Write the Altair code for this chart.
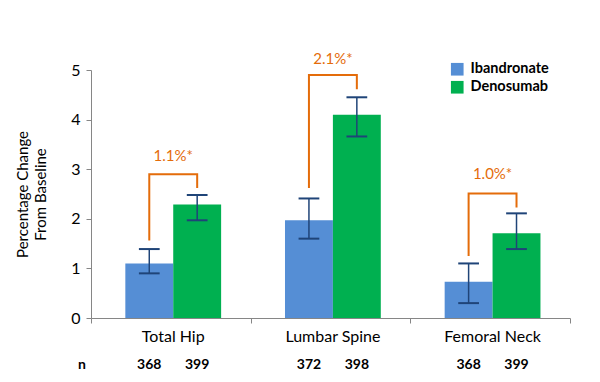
import altair as alt
import pandas as pd

# ---- data ----
categories = ["Total Hip", "Lumbar Spine", "Femoral Neck"]
series = ["Ibandronate", "Denosumab"]
ibandronate = [1.10, 1.97, 0.73]
denosumab = [2.29, 4.10, 1.71]
iband_lo = [0.90, 1.60, 0.30]
iband_hi = [1.39, 2.41, 1.10]
denos_lo = [1.97, 3.66, 1.39]
denos_hi = [2.48, 4.45, 2.11]
n_iband = [368, 372, 368]
n_denos = [399, 398, 399]
diff_labels = ["1.1%*", "2.1%*", "1.0%*"]
bracket_left_low = [1.56, 2.62, 1.25]
bracket_top = [2.90, 4.90, 2.51]
bracket_right_low = [2.62, 4.61, 2.23]
diff_label_y = [3.26, 5.23, 2.90]

# ---- layout constants ----
BAR_W = 0.30
CAP_W = 0.065
SHIFT = 0.015
FONT = "Lato"
BLUE, GREEN = "#558ED5", "#00B050"
NAVY, ORANGE, AXIS_GRAY = "#1F4478", "#E46C0A", "#868686"

bar_rows, err_rows, n_rows, cat_rows, br_rows, dl_rows = [], [], [], [], [], []
for i, cat in enumerate(categories):
    c = i + 0.5 + SHIFT
    vals = [ibandronate[i], denosumab[i]]
    los = [iband_lo[i], denos_lo[i]]
    his = [iband_hi[i], denos_hi[i]]
    ns = [n_iband[i], n_denos[i]]
    for j, s in enumerate(series):
        x0 = c - BAR_W if j == 0 else c
        x1 = x0 + BAR_W
        xc = (x0 + x1) / 2
        bar_rows.append(dict(category=cat, series=s, x0=x0, x1=x1, value=vals[j]))
        err_rows.append(dict(xc=xc, cl=xc - CAP_W, cr=xc + CAP_W, lo=los[j], hi=his[j]))
        n_rows.append(dict(xc=xc, n=str(ns[j])))
    cat_rows.append(dict(xc=c, label=cat))
    xl, xr = c - BAR_W / 2, c + BAR_W / 2
    pts = [(xl, bracket_left_low[i]), (xl, bracket_top[i]),
           (xr, bracket_top[i]), (xr, bracket_right_low[i])]
    for k, (px, py) in enumerate(pts):
        br_rows.append(dict(grp=cat, order=k, bx=px, by=py))
    dl_rows.append(dict(xc=c, y=diff_label_y[i], label=diff_labels[i]))

bars_df = pd.DataFrame(bar_rows)
err_df = pd.DataFrame(err_rows)
n_df = pd.DataFrame(n_rows)
cat_df = pd.DataFrame(cat_rows)
br_df = pd.DataFrame(br_rows)
dl_df = pd.DataFrame(dl_rows)

xscale = alt.Scale(domain=[0, 3], nice=False, zero=False)
yscale = alt.Scale(domain=[0, 5], nice=False)

xaxis = alt.Axis(values=[0, 1, 2, 3], labels=False, title=None, grid=False,
                 domainColor=AXIS_GRAY, tickColor=AXIS_GRAY, tickSize=5)
yaxis = alt.Axis(values=[0, 1, 2, 3, 4, 5], grid=False,
                 title=["Percentage Change", "From Baseline"],
                 titleFont=FONT, titleFontSize=15, titleFontWeight="normal",
                 titleColor="#000000", titlePadding=22, titleLineHeight=18,
                 labelFont=FONT, labelFontSize=16, labelColor="#000000",
                 labelPadding=6, domainColor=AXIS_GRAY, tickColor=AXIS_GRAY,
                 tickSize=5)


def X(field):
    return alt.X(field, scale=xscale, axis=xaxis)


def Y(field):
    return alt.Y(field, scale=yscale, axis=yaxis)


bars = alt.Chart(bars_df).mark_rect().encode(
    x=X("x0:Q"),
    x2="x1:Q",
    y=Y("value:Q"),
    y2=alt.datum(0),
    color=alt.Color("series:N",
                    scale=alt.Scale(domain=series, range=[BLUE, GREEN]),
                    legend=alt.Legend(title=None, orient="none", legendX=359, legendY=-8,
                                      symbolType="square", symbolSize=160,
                                      symbolStrokeWidth=0, labelFont=FONT,
                                      labelFontSize=14.5, labelFontWeight="bold",
                                      labelColor="#000000", rowPadding=3, padding=0,
                                      labelOffset=6)),
)

whisk = alt.Chart(err_df).mark_rule(color=NAVY, strokeWidth=1.5).encode(
    x=X("xc:Q"), y=Y("lo:Q"), y2="hi:Q",
)
cap_hi = alt.Chart(err_df).mark_rule(color=NAVY, strokeWidth=2).encode(
    x=X("cl:Q"), x2="cr:Q", y=Y("hi:Q"),
)
cap_lo = alt.Chart(err_df).mark_rule(color=NAVY, strokeWidth=2).encode(
    x=X("cl:Q"), x2="cr:Q", y=Y("lo:Q"),
)

brackets = alt.Chart(br_df).mark_line(color=ORANGE, strokeWidth=2).encode(
    x=X("bx:Q"), y=Y("by:Q"),
    detail="grp:N",
    order="order:Q",
)

diff_text = alt.Chart(dl_df).mark_text(color=ORANGE, font=FONT, fontSize=15,
                                       baseline="middle").encode(
    x=X("xc:Q"), y=Y("y:Q"), text="label:N",
)

cat_text = alt.Chart(cat_df).mark_text(font=FONT, fontSize=16, color="#000000",
                                       baseline="middle", dy=19).encode(
    x=X("xc:Q"), y=Y("zero:Q"), text="label:N",
).transform_calculate(zero="0")

n_text = alt.Chart(n_df).mark_text(font=FONT, fontSize=14, fontWeight="bold",
                                   color="#000000", baseline="middle", dy=47).encode(
    x=X("xc:Q"), y=Y("zero:Q"), text="n:N",
).transform_calculate(zero="0")

n_head = alt.Chart(pd.DataFrame({"label": ["n"]})).mark_text(
    font=FONT, fontSize=14, fontWeight="bold", color="#000000",
    baseline="middle", dy=47, dx=-9).encode(
    x=X("zero:Q"), y=Y("zero:Q"), text="label:N",
).transform_calculate(zero="0")

chart = alt.layer(bars, whisk, cap_hi, cap_lo, brackets, diff_text,
                  cat_text, n_text, n_head).properties(
    width=479, height=248,
    autosize=alt.AutoSizeParams(type="none"),
    padding={"left": 83, "top": 62, "right": 20, "bottom": 56},
    background="#ffffff",
).configure_view(stroke=None)

chart.save("out.html", embed_options={"renderer": "svg", "actions": False})
